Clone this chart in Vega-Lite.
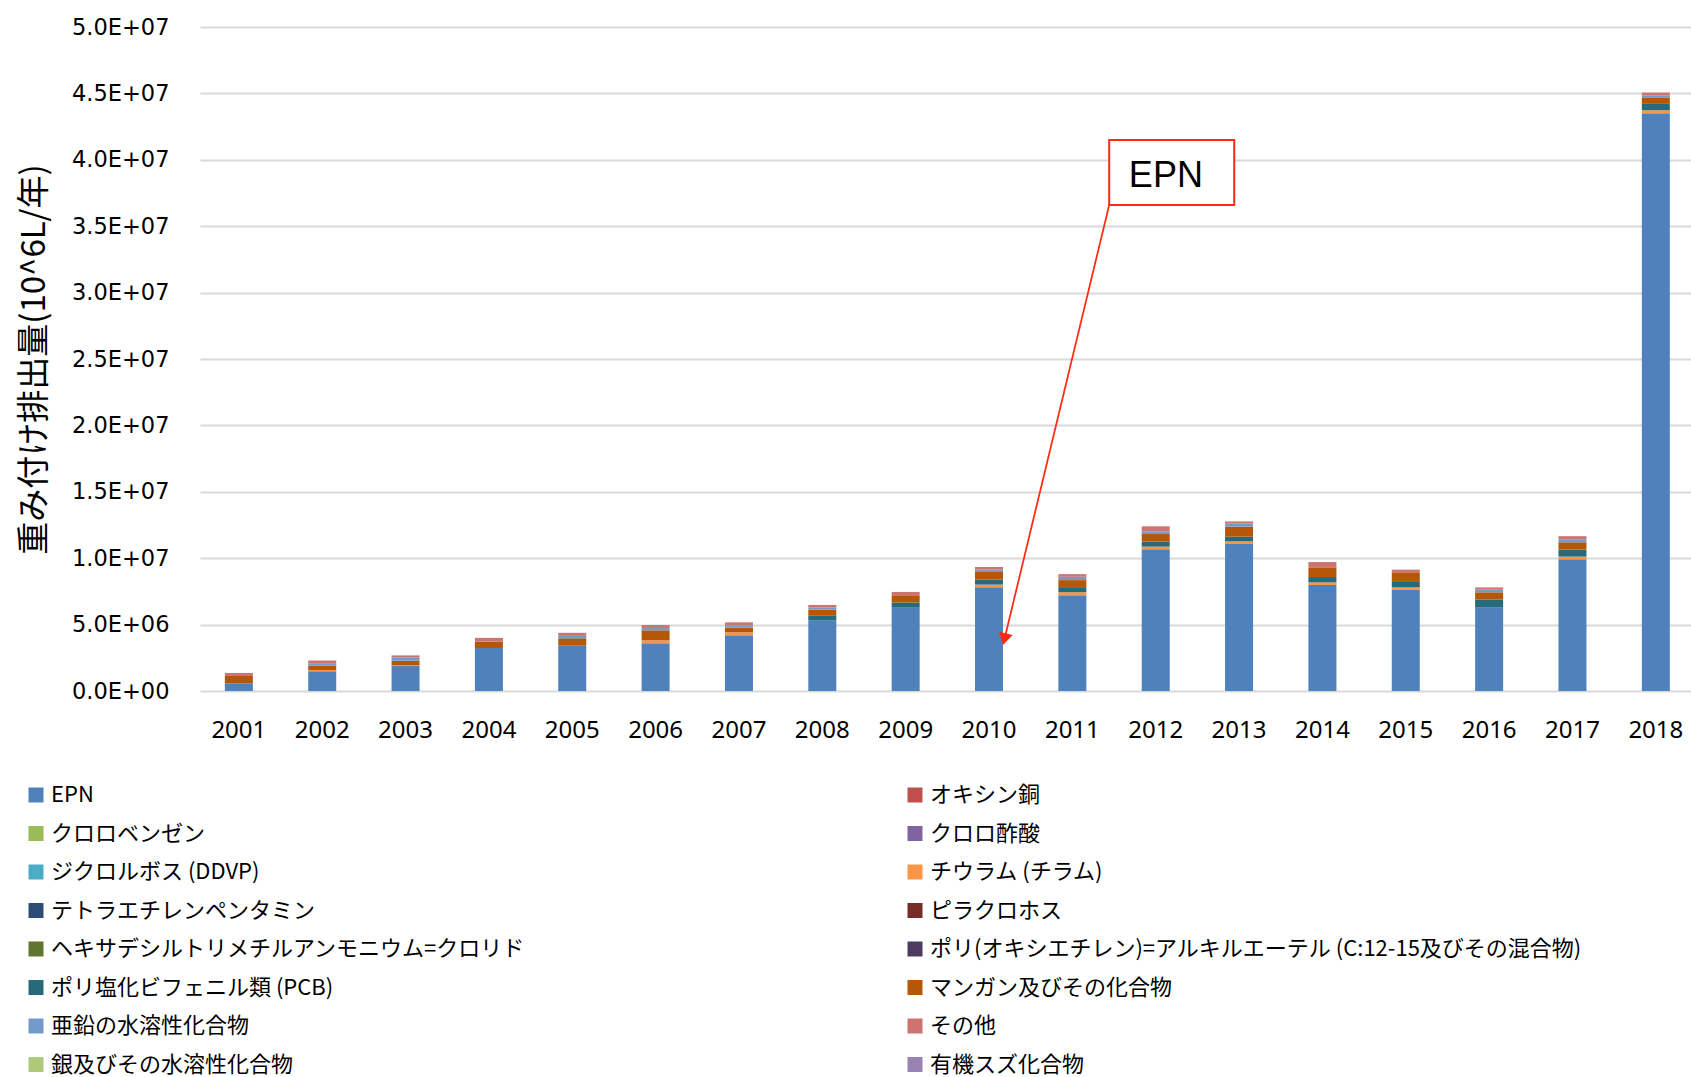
{
  "$schema": "https://vega.github.io/schema/vega-lite/v6.json",
  "autosize": {"type": "none"},
  "padding": {"left": 200, "top": 27, "right": 0, "bottom": 386},
  "width": 1491,
  "height": 664,
  "background": "#FFFFFF",
  "config": {
    "view": {"stroke": null},
    "legend": {"labelLimit": 1000}
  },
  "layer": [
    {
      "data": {
        "values": [
          {"year": "2001", "name": "EPN", "value": 580000},
          {"year": "2001", "name": "マンガン及びその化合物", "value": 550000},
          {"year": "2001", "name": "その他", "value": 230000},
          {"year": "2002", "name": "EPN", "value": 1480000},
          {"year": "2002", "name": "チウラム (チラム)", "value": 75000},
          {"year": "2002", "name": "マンガン及びその化合物", "value": 350000},
          {"year": "2002", "name": "亜鉛の水溶性化合物", "value": 150000},
          {"year": "2002", "name": "その他", "value": 250000},
          {"year": "2003", "name": "EPN", "value": 1880000},
          {"year": "2003", "name": "チウラム (チラム)", "value": 50000},
          {"year": "2003", "name": "マンガン及びその化合物", "value": 350000},
          {"year": "2003", "name": "亜鉛の水溶性化合物", "value": 230000},
          {"year": "2003", "name": "その他", "value": 170000},
          {"year": "2004", "name": "EPN", "value": 3240000},
          {"year": "2004", "name": "マンガン及びその化合物", "value": 480000},
          {"year": "2004", "name": "その他", "value": 280000},
          {"year": "2005", "name": "EPN", "value": 3420000},
          {"year": "2005", "name": "マンガン及びその化合物", "value": 550000},
          {"year": "2005", "name": "亜鉛の水溶性化合物", "value": 180000},
          {"year": "2005", "name": "その他", "value": 230000},
          {"year": "2006", "name": "EPN", "value": 3590000},
          {"year": "2006", "name": "チウラム (チラム)", "value": 230000},
          {"year": "2006", "name": "マンガン及びその化合物", "value": 750000},
          {"year": "2006", "name": "亜鉛の水溶性化合物", "value": 170000},
          {"year": "2006", "name": "その他", "value": 230000},
          {"year": "2007", "name": "EPN", "value": 4190000},
          {"year": "2007", "name": "チウラム (チラム)", "value": 230000},
          {"year": "2007", "name": "マンガン及びその化合物", "value": 350000},
          {"year": "2007", "name": "亜鉛の水溶性化合物", "value": 150000},
          {"year": "2007", "name": "その他", "value": 250000},
          {"year": "2008", "name": "EPN", "value": 5320000},
          {"year": "2008", "name": "ポリ塩化ビフェニル類 (PCB)", "value": 380000},
          {"year": "2008", "name": "マンガン及びその化合物", "value": 430000},
          {"year": "2008", "name": "亜鉛の水溶性化合物", "value": 150000},
          {"year": "2008", "name": "その他", "value": 200000},
          {"year": "2009", "name": "EPN", "value": 6280000},
          {"year": "2009", "name": "ポリ塩化ビフェニル類 (PCB)", "value": 380000},
          {"year": "2009", "name": "マンガン及びその化合物", "value": 550000},
          {"year": "2009", "name": "その他", "value": 250000},
          {"year": "2010", "name": "EPN", "value": 7810000},
          {"year": "2010", "name": "チウラム (チラム)", "value": 200000},
          {"year": "2010", "name": "ポリ塩化ビフェニル類 (PCB)", "value": 380000},
          {"year": "2010", "name": "マンガン及びその化合物", "value": 570000},
          {"year": "2010", "name": "亜鉛の水溶性化合物", "value": 180000},
          {"year": "2010", "name": "その他", "value": 200000},
          {"year": "2011", "name": "EPN", "value": 7210000},
          {"year": "2011", "name": "チウラム (チラム)", "value": 230000},
          {"year": "2011", "name": "ポリ塩化ビフェニル類 (PCB)", "value": 380000},
          {"year": "2011", "name": "マンガン及びその化合物", "value": 530000},
          {"year": "2011", "name": "亜鉛の水溶性化合物", "value": 250000},
          {"year": "2011", "name": "その他", "value": 200000},
          {"year": "2012", "name": "EPN", "value": 10670000},
          {"year": "2012", "name": "チウラム (チラム)", "value": 200000},
          {"year": "2012", "name": "ポリ塩化ビフェニル類 (PCB)", "value": 380000},
          {"year": "2012", "name": "マンガン及びその化合物", "value": 570000},
          {"year": "2012", "name": "亜鉛の水溶性化合物", "value": 180000},
          {"year": "2012", "name": "その他", "value": 400000},
          {"year": "2013", "name": "EPN", "value": 11070000},
          {"year": "2013", "name": "チウラム (チラム)", "value": 200000},
          {"year": "2013", "name": "ポリ塩化ビフェニル類 (PCB)", "value": 350000},
          {"year": "2013", "name": "マンガン及びその化合物", "value": 750000},
          {"year": "2013", "name": "亜鉛の水溶性化合物", "value": 230000},
          {"year": "2013", "name": "その他", "value": 170000},
          {"year": "2014", "name": "EPN", "value": 7980000},
          {"year": "2014", "name": "チウラム (チラム)", "value": 200000},
          {"year": "2014", "name": "ポリ塩化ビフェニル類 (PCB)", "value": 400000},
          {"year": "2014", "name": "マンガン及びその化合物", "value": 730000},
          {"year": "2014", "name": "その他", "value": 400000},
          {"year": "2015", "name": "EPN", "value": 7610000},
          {"year": "2015", "name": "チウラム (チラム)", "value": 200000},
          {"year": "2015", "name": "ポリ塩化ビフェニル類 (PCB)", "value": 400000},
          {"year": "2015", "name": "マンガン及びその化合物", "value": 730000},
          {"year": "2015", "name": "その他", "value": 200000},
          {"year": "2016", "name": "EPN", "value": 6300000},
          {"year": "2016", "name": "ポリ塩化ビフェニル類 (PCB)", "value": 580000},
          {"year": "2016", "name": "マンガン及びその化合物", "value": 550000},
          {"year": "2016", "name": "亜鉛の水溶性化合物", "value": 200000},
          {"year": "2016", "name": "その他", "value": 170000},
          {"year": "2017", "name": "EPN", "value": 9920000},
          {"year": "2017", "name": "チウラム (チラム)", "value": 200000},
          {"year": "2017", "name": "ポリ塩化ビフェニル類 (PCB)", "value": 530000},
          {"year": "2017", "name": "マンガン及びその化合物", "value": 550000},
          {"year": "2017", "name": "亜鉛の水溶性化合物", "value": 230000},
          {"year": "2017", "name": "その他", "value": 230000},
          {"year": "2018", "name": "EPN", "value": 43500000},
          {"year": "2018", "name": "チウラム (チラム)", "value": 230000},
          {"year": "2018", "name": "ポリ塩化ビフェニル類 (PCB)", "value": 530000},
          {"year": "2018", "name": "マンガン及びその化合物", "value": 400000},
          {"year": "2018", "name": "亜鉛の水溶性化合物", "value": 170000},
          {"year": "2018", "name": "その他", "value": 230000}
        ]
      },
      "transform": [
        {"calculate": "indexof(['EPN', 'オキシン銅', 'クロロベンゼン', 'クロロ酢酸', 'ジクロルボス (DDVP)', 'チウラム (チラム)', 'テトラエチレンペンタミン', 'ピラクロホス', 'ヘキサデシルトリメチルアンモニウム=クロリド', 'ポリ(オキシエチレン)=アルキルエーテル  (C:12-15及びその混合物)', 'ポリ塩化ビフェニル類 (PCB)', 'マンガン及びその化合物', '亜鉛の水溶性化合物', 'その他', '銀及びその水溶性化合物', '有機スズ化合物'], datum.name)", "as": "stackOrder"}
      ],
      "mark": {"type": "bar"},
      "encoding": {
        "x": {
          "field": "year",
          "type": "ordinal",
          "scale": {"paddingInner": 0.664, "paddingOuter": 0.276, "align": 0.54},
          "axis": {
            "title": null,
            "labelAngle": 0,
            "ticks": false,
            "tickSize": 0,
            "domain": false,
            "grid": false,
            "labelFont": "Noto Sans",
            "labelFontSize": 24,
            "labelColor": "#000000",
            "labelPadding": 27
          }
        },
        "y": {
          "aggregate": "sum",
          "field": "value",
          "type": "quantitative",
          "stack": "zero",
          "title": "重み付け排出量(10^6L/年)",
          "scale": {"domain": [0, 50000000], "nice": false},
          "axis": {
            "title": "重み付け排出量(10^6L/年)",
            "titleFont": "Noto Sans CJK JP",
            "titleFontSize": 33,
            "titleFontWeight": "normal",
            "titleColor": "#000000",
            "titlePadding": 20,
            "values": [0, 5000000, 10000000, 15000000, 20000000, 25000000, 30000000, 35000000, 40000000, 45000000, 50000000],
            "labelExpr": "replace(format(datum.value, '.1e'), 'e+', 'E+0')",
            "labelFont": "DejaVu Sans",
            "labelFontSize": 22.5,
            "labelColor": "#000000",
            "labelPadding": 31,
            "ticks": false,
            "tickSize": 0,
            "domain": false,
            "grid": true,
            "gridColor": "#D9D9D9",
            "gridWidth": 2
          }
        },
        "order": {"field": "stackOrder", "type": "quantitative", "sort": "ascending"},
        "color": {
          "field": "name",
          "type": "nominal",
          "scale": {
            "domain": ["EPN", "クロロベンゼン", "ジクロルボス (DDVP)", "テトラエチレンペンタミン", "ヘキサデシルトリメチルアンモニウム=クロリド", "ポリ塩化ビフェニル類 (PCB)", "亜鉛の水溶性化合物", "銀及びその水溶性化合物", "オキシン銅", "クロロ酢酸", "チウラム (チラム)", "ピラクロホス", "ポリ(オキシエチレン)=アルキルエーテル  (C:12-15及びその混合物)", "マンガン及びその化合物", "その他", "有機スズ化合物"],
            "range": ["#4F81BD", "#9BBB59", "#4BACC6", "#2C4D75", "#5F7530", "#276A7C", "#729ACA", "#AFC97A", "#C0504D", "#8064A2", "#F79646", "#772C2A", "#4D3B62", "#B65708", "#CD7371", "#9983B5"]
          },
          "legend": {
            "title": null,
            "orient": "none",
            "legendX": -175,
            "legendY": 757,
            "columns": 2,
            "columnPadding": 378,
            "rowPadding": 16.5,
            "padding": 0,
            "symbolType": "square",
            "symbolSize": 225,
            "symbolStrokeWidth": 0,
            "symbolOpacity": 1,
            "labelFont": "Noto Sans CJK JP",
            "labelFontSize": 22,
            "labelColor": "#000000",
            "labelOffset": 4,
            "labelLimit": 1000
          }
        }
      }
    },
    {
      "layer": [
        {
          "data": {"values": [{"x": 2011.44, "x2": 2012.94, "y": 41490000, "y2": 36600000}]},
          "mark": {"type": "rect", "fill": "#FFFFFF", "stroke": "#FF2A12", "strokeWidth": 2},
          "encoding": {
            "x": {"field": "x", "type": "quantitative", "scale": {"domain": [2000.532, 2018.42], "nice": false, "zero": false}, "axis": null},
            "x2": {"field": "x2"},
            "y": {"field": "y", "type": "quantitative", "title": "重み付け排出量(10^6L/年)", "scale": {"domain": [0, 50000000], "nice": false}},
            "y2": {"field": "y2"}
          }
        },
        {
          "data": {"values": [{"x": 2012.12, "y": 38800000, "label": "EPN"}]},
          "mark": {"type": "text", "font": "Liberation Sans", "fontSize": 36, "color": "#000000", "align": "center", "baseline": "middle"},
          "encoding": {
            "x": {"field": "x", "type": "quantitative", "scale": {"domain": [2000.532, 2018.42], "nice": false, "zero": false}, "axis": null},
            "y": {"field": "y", "type": "quantitative", "title": "重み付け排出量(10^6L/年)", "scale": {"domain": [0, 50000000], "nice": false}},
            "text": {"field": "label"}
          }
        },
        {
          "data": {"values": [{"x": 2011.44, "y": 36600000, "x2": 2010.183, "y2": 3900000}]},
          "mark": {"type": "rule", "color": "#FF2A12", "strokeWidth": 1.75},
          "encoding": {
            "x": {"field": "x", "type": "quantitative", "scale": {"domain": [2000.532, 2018.42], "nice": false, "zero": false}, "axis": null},
            "y": {"field": "y", "type": "quantitative", "title": "重み付け排出量(10^6L/年)", "scale": {"domain": [0, 50000000], "nice": false}},
            "x2": {"field": "x2"},
            "y2": {"field": "y2"}
          }
        },
        {
          "data": {"values": [{"x": 2010.183, "y": 3900000}]},
          "mark": {"type": "point", "shape": "triangle-down", "size": 196, "filled": true, "color": "#FF2A12", "opacity": 1, "angle": 13.5},
          "encoding": {
            "x": {"field": "x", "type": "quantitative", "scale": {"domain": [2000.532, 2018.42], "nice": false, "zero": false}, "axis": null},
            "y": {"field": "y", "type": "quantitative", "title": "重み付け排出量(10^6L/年)", "scale": {"domain": [0, 50000000], "nice": false}}
          }
        }
      ]
    }
  ],
  "resolve": {"scale": {"x": "independent"}}
}
